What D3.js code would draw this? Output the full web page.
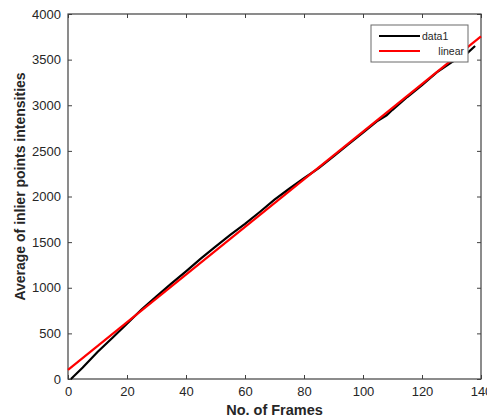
<!DOCTYPE html>
<html>
<head>
<meta charset="utf-8">
<script src="https://cdn.jsdelivr.net/npm/d3@7"></script>
<style>
body { margin: 0; background: #fff; }
text { font-family: "Liberation Sans", Arial, sans-serif; }
</style>
</head>
<body>
<svg id="chart" width="487" height="419"></svg>
<script>
// data
var frames = [1, 5, 10, 15, 20, 25, 30, 35, 40, 45, 50, 55, 60, 65, 70, 75, 80, 85, 90, 95, 100, 105, 108, 110, 115, 120, 125, 130, 135, 138];
var intensities = [0, 125, 295, 450, 605, 765, 905, 1045, 1180, 1320, 1450, 1580, 1700, 1830, 1965, 2085, 2200, 2310, 2440, 2570, 2700, 2830, 2890, 2950, 3090, 3220, 3360, 3470, 3560, 3650];
var fitX = [0, 140];
var fitY = [100, 3755];
var xTicks = [0, 20, 40, 60, 80, 100, 120, 140];
var yTicks = [0, 500, 1000, 1500, 2000, 2500, 3000, 3500, 4000];
var legendNames = ["data1", "linear"];

var plotLeft = 68, plotRight = 481, plotTop = 14, plotBottom = 379;
var axisColor = "#404040", labelColor = "#262626";

var canvas = d3.select("#chart");
var x = d3.scaleLinear().domain([0, 140]).range([plotLeft, plotRight]);
var y = d3.scaleLinear().domain([0, 4000]).range([plotBottom, plotTop]);

/*
Axes, with inward ticks on all four sides (box on)
*/
function styleAxis(g){
	g.select(".domain").remove();
	g.selectAll(".tick line").attr("stroke", axisColor);
	g.selectAll(".tick text").attr("fill", labelColor).attr("font-size", "13px");
}

canvas.append("g")
	.attr("transform", "translate(0," + plotBottom + ")")
	.call(d3.axisBottom(x).tickValues(xTicks).tickSize(-4).tickPadding(8).tickFormat(d3.format("d")))
	.call(styleAxis);
canvas.append("g")
	.attr("transform", "translate(0," + plotTop + ")")
	.call(d3.axisTop(x).tickValues(xTicks).tickSize(-4).tickFormat(""))
	.call(styleAxis);
canvas.append("g")
	.attr("transform", "translate(" + plotLeft + ",0)")
	.call(d3.axisLeft(y).tickValues(yTicks).tickSize(-4).tickPadding(7).tickFormat(d3.format("d")))
	.call(styleAxis);
canvas.append("g")
	.attr("transform", "translate(" + plotRight + ",0)")
	.call(d3.axisRight(y).tickValues(yTicks).tickSize(-4).tickFormat(""))
	.call(styleAxis);

canvas.append("rect")
	.attr("x", plotLeft).attr("y", plotTop)
	.attr("width", plotRight - plotLeft).attr("height", plotBottom - plotTop)
	.style("fill", "none")
	.style("stroke", axisColor)
	.style("stroke-width", 1.2);

// series
var line = d3.line().x(function(d){return x(d[0]);}).y(function(d){return y(d[1]);});

canvas.append("path")
	.datum(d3.zip(frames, intensities))
	.attr("d", line)
	.style("fill", "none")
	.style("stroke", "black")
	.style("stroke-width", 2.2);

canvas.append("path")
	.datum(d3.zip(fitX, fitY))
	.attr("d", line)
	.style("fill", "none")
	.style("stroke", "#ff0000")
	.style("stroke-width", 2.2);

// axis labels
canvas.append("text")
	.text("No. of Frames")
	.attr("x", (plotLeft + plotRight) / 2)
	.attr("y", 415)
	.attr("text-anchor", "middle")
	.attr("font-size", "14.5px")
	.attr("font-weight", "bold")
	.attr("fill", labelColor);

canvas.append("text")
	.text("Average of inlier points intensities")
	.attr("transform", "translate(25," + ((plotTop + plotBottom) / 2 - 10) + ") rotate(-90)")
	.attr("text-anchor", "middle")
	.attr("font-size", "14px")
	.attr("font-weight", "bold")
	.attr("fill", labelColor);

// legend
var legend = canvas.append("g");
legend.append("rect")
	.attr("x", 371).attr("y", 25)
	.attr("width", 97).attr("height", 37)
	.style("fill", "white")
	.style("stroke", "#6a6a6a")
	.style("stroke-width", 1);

var entries = legend.selectAll(".entry")
	.data(legendNames)
	.enter()
	.append("g")
	.attr("transform", function(d, i){return "translate(0," + (36 + i * 15) + ")";});

entries.append("line")
	.attr("x1", 379).attr("x2", 420)
	.attr("y1", 0).attr("y2", 0)
	.style("stroke", function(d, i){return i === 0 ? "black" : "#ff0000";})
	.style("stroke-width", 2.2);

entries.append("text")
	.text(function(d){return d;})
	.attr("x", function(d, i){return i === 0 ? 422 : 464;})
	.attr("y", 4)
	.attr("text-anchor", function(d, i){return i === 0 ? "start" : "end";})
	.attr("font-size", "10.5px")
	.attr("fill", labelColor);
</script>
</body>
</html>
